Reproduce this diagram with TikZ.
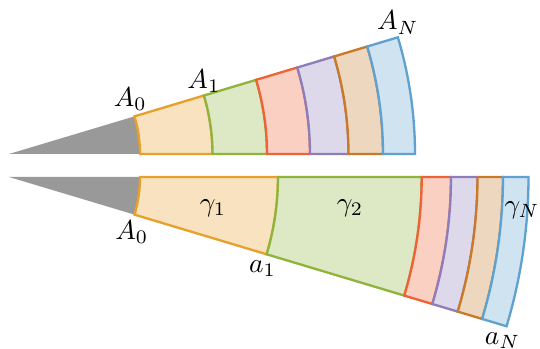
\documentclass[tikz,border=0pt]{standalone}
\usepackage{tikz}
\usetikzlibrary{positioning}
\usepackage{xcolor}
\usepackage{amsmath}
\definecolor{WedgeGray}{HTML}{999999}
\definecolor{RingOrange}{HTML}{E8A02A}
\definecolor{RingGreen}{HTML}{8FB33B}
\definecolor{RingRed}{HTML}{EE6234}
\definecolor{RingPurple}{HTML}{8E7DBA}
\definecolor{RingBrown}{HTML}{C8792A}
\definecolor{RingBlue}{HTML}{5FA2CF}

\begin{document}
\begin{tikzpicture}[x=0.365pt, y=0.365pt,
  ringline/.style={line width=0.85pt, line join=miter},
  lab/.style={inner sep=1pt}]

\useasboundingbox (0,0) rectangle (540,349);

\coordinate (T) at (9,195);   % apex, upper wedge
\coordinate (B) at (9,172);   % apex, lower wedge

% ── Upper wedge ───────────────────────────────────────────────────────────────
\fill[WedgeGray] (T) -- ([shift={(0:131)}]T)
  arc[start angle=0, end angle=16.7, radius=131] -- cycle;

\foreach \ri/\ro/\col in {131/203.5/RingOrange, 203.5/258/RingGreen,
                          258/301/RingRed, 301/339.5/RingPurple,
                          339.5/374/RingBrown, 374/406/RingBlue}{
  \draw[ringline, draw=\col, fill=\col!30]
    ([shift={(0:\ri)}]T) -- ([shift={(0:\ro)}]T)
    arc[start angle=0, end angle=16.7, radius=\ro]
    -- ([shift={(16.7:\ri)}]T)
    arc[start angle=16.7, end angle=0, radius=\ri] -- cycle;
}

\coordinate (tA0) at ([shift={(16.7:131)}]T);
\coordinate (tA1) at ([shift={(16.7:203.5)}]T);
\coordinate (tAN) at ([shift={(16.7:406)}]T);
\node[lab, above=1pt of tA0, xshift=-1.5pt] (labtA0) {$A_0$};
\node[lab, above=0pt of tA1] (labtA1) {$A_1$};
\node[lab, above=0pt of tAN] (labtAN) {$A_N$};

% ── Lower wedge ───────────────────────────────────────────────────────────────
\fill[WedgeGray] (B) -- ([shift={(0:131)}]B)
  arc[start angle=0, end angle=-16.7, radius=131] -- cycle;

\foreach \ri/\ro/\col in {131/269/RingOrange, 269/412.7/RingGreen,
                          412.7/442/RingRed, 442/468.5/RingPurple,
                          468.5/494/RingBrown, 494/519.5/RingBlue}{
  \draw[ringline, draw=\col, fill=\col!30]
    ([shift={(0:\ri)}]B) -- ([shift={(0:\ro)}]B)
    arc[start angle=0, end angle=-16.7, radius=\ro]
    -- ([shift={(-16.7:\ri)}]B)
    arc[start angle=-16.7, end angle=0, radius=\ri] -- cycle;
}

\coordinate (bA0) at ([shift={(-16.7:131)}]B);
\coordinate (ba1) at ([shift={(-16.7:269)}]B);
\coordinate (baN) at ([shift={(-16.7:519.5)}]B);
\node[lab, below=1pt of bA0, xshift=-1pt] (labbA0) {$A_0$};
\node[lab, below=1pt of ba1, xshift=-1.5pt] (labba1) {$a_1$};
\node[lab, below=1pt of baN, xshift=-1.5pt] (labbaN) {$a_N$};

% ── Ring labels ───────────────────────────────────────────────────────────────
\node (g1) at (213,141) {$\gamma_1$};
\node (g2) at (350,141) {$\gamma_2$};
\node (gN) at (522,139) {$\gamma_N$};

\end{tikzpicture}
\end{document}
